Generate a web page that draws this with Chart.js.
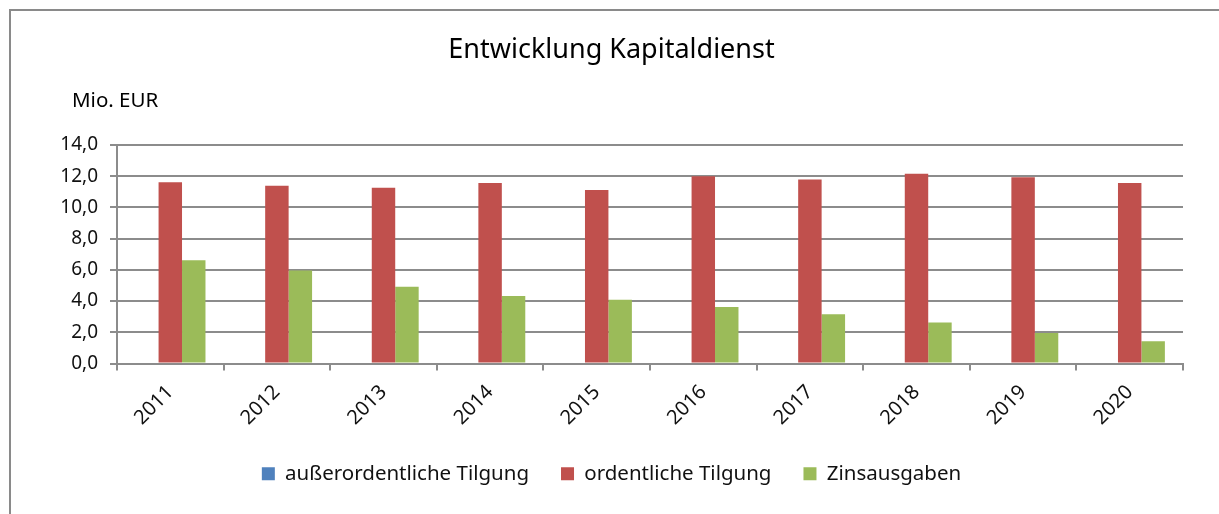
<!DOCTYPE html>
<html>
<head>
<meta charset="utf-8">
<script src="https://cdn.jsdelivr.net/npm/chart.js@4.4.1/dist/chart.umd.min.js"></script>
<style>
  html, body { margin: 0; padding: 0; background: #fff; }
  #wrap { position: relative; width: 1219px; height: 514px; }
  #frame { position: absolute; left: 9px; top: 9px; right: -5px; bottom: -5px; border-left: 2px solid #8a8a8a; border-top: 2px solid #8a8a8a; pointer-events: none; }
</style>
</head>
<body>
<div id="wrap">
  <canvas id="kapitalChart" width="1219" height="514"></canvas>
  <div id="frame"></div>
</div>
<script>
var years = ['2011', '2012', '2013', '2014', '2015', '2016', '2017', '2018', '2019', '2020'];
var ausserordentlich = [0, 0, 0, 0, 0, 0, 0, 0, 0, 0];
var ordentlich = [11.62, 11.39, 11.26, 11.56, 11.11, 12.0, 11.79, 12.15, 11.94, 11.56];
var zinsen = [6.62, 5.96, 4.92, 4.32, 4.09, 3.62, 3.15, 2.62, 1.96, 1.42];
var yTicks = [0, 2, 4, 6, 8, 10, 12, 14];
var unitText = 'Mio. EUR';

var fontName = "'Noto Sans', sans-serif";
var gridColor = '#8c8c8c';

// einheit oben links ueber der y-achse
var unitLabel = {
    id: 'unitLabel',
    afterDraw: function (chart) {
        var c = chart.ctx;
        c.save();
        c.fillStyle = '#000';
        c.font = '20.5px ' + fontName;
        c.textBaseline = 'middle';
        c.textAlign = 'left';
        c.fillText(unitText, 72, 101);
        c.restore();
    }
};

var ctx = document.getElementById('kapitalChart').getContext('2d');
var chart = new Chart(ctx, {
    type: 'bar',
    data: {
        labels: years,
        datasets: [{
            label: 'außerordentliche Tilgung',
            backgroundColor: '#4F81BD',
            data: ausserordentlich
        }, {
            label: 'ordentliche Tilgung',
            backgroundColor: '#C0504D',
            data: ordentlich
        }, {
            label: 'Zinsausgaben',
            backgroundColor: '#9BBB59',
            data: zinsen
        }]
    },
    options: {
        responsive: false,
        animation: false,
        layout: { padding: { top: 22, left: 40, right: 36, bottom: 20 } },
        datasets: {
            bar: { categoryPercentage: 0.66, barPercentage: 1.0 }
        },
        scales: {
            x: {
                offset: true,
                grid: { display: true, drawOnChartArea: false, offset: true, color: gridColor, lineWidth: 2, tickLength: 7 },
                border: { display: true, color: gridColor, width: 2 },
                ticks: {
                    minRotation: 45, maxRotation: 45, padding: 10,
                    color: '#111', font: { family: fontName, size: 20 }
                },
                afterFit: function (scale) { scale.height = 68; }
            },
            y: {
                min: 0, max: 14,
                afterBuildTicks: function (scale) {
                    scale.ticks = yTicks.map(function (v) { return { value: v }; });
                },
                grid: { color: gridColor, lineWidth: 2, tickLength: 7 },
                border: { display: true, color: gridColor, width: 2 },
                ticks: {
                    padding: 12, color: '#111', font: { family: fontName, size: 19 },
                    callback: function (value) { return value.toFixed(1).replace('.', ','); }
                },
                afterFit: function (scale) { scale.width = 77; }
            }
        },
        plugins: {
            title: {
                display: true,
                text: 'Entwicklung Kapitaldienst',
                color: '#000',
                font: { family: fontName, size: 27, weight: 'normal' },
                padding: { top: 12, bottom: 78.6 }
            },
            legend: {
                position: 'bottom',
                labels: {
                    boxWidth: 13, boxHeight: 13, padding: 32,
                    color: '#111', font: { family: fontName, size: 20.5 }
                }
            },
            tooltip: { enabled: false }
        }
    },
    plugins: [unitLabel]
});
</script>
</body>
</html>
